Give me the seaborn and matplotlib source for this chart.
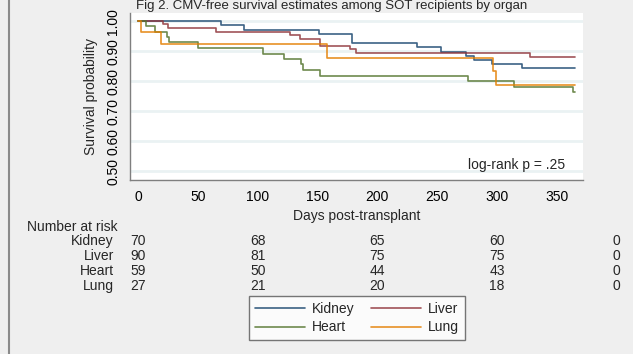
import pandas as pd
import matplotlib
matplotlib.use("Agg")
import matplotlib.pyplot as plt
import matplotlib.transforms as mtransforms
from matplotlib.lines import Line2D
import seaborn as sns

# Kaplan-Meier step estimates (days, survival)
kidney_days = [0, 69, 88, 151, 179, 233, 253, 274, 281, 296, 321, 365]
kidney_surv = [1.0, 0.986, 0.971, 0.957, 0.928, 0.913, 0.898, 0.884, 0.870, 0.857, 0.842, 0.842]

liver_days = [0, 21, 25, 65, 127, 135, 152, 177, 182, 328, 365]
liver_surv = [1.0, 0.989, 0.978, 0.963, 0.952, 0.941, 0.918, 0.906, 0.892, 0.880, 0.880]

heart_days = [0, 6, 14, 24, 26, 50, 104, 122, 136, 138, 152, 276, 314, 364, 365]
heart_surv = [1.0, 0.983, 0.962, 0.948, 0.930, 0.911, 0.891, 0.872, 0.857, 0.837, 0.818, 0.799, 0.779, 0.762, 0.762]

lung_days = [0, 2, 19, 158, 297, 299, 365]
lung_surv = [1.0, 0.963, 0.922, 0.877, 0.834, 0.788, 0.788]

organs = ["Kidney", "Liver", "Heart", "Lung"]
colors = ["#1a476f", "#90353b", "#55752f", "#e37e00"]

# number at risk table
risk_times = [0, 100, 200, 300, 400]
risk_kidney = [70, 68, 65, 60, 0]
risk_liver = [90, 81, 75, 75, 0]
risk_heart = [59, 50, 44, 43, 0]
risk_lung = [27, 21, 20, 18, 0]

curves = {
    "Kidney": (kidney_days, kidney_surv),
    "Liver": (liver_days, liver_surv),
    "Heart": (heart_days, heart_surv),
    "Lung": (lung_days, lung_surv),
}
df = pd.concat(
    [pd.DataFrame({"days": d, "surv": s, "organ": k}) for k, (d, s) in curves.items()],
    ignore_index=True,
)
risk = {"Kidney": risk_kidney, "Liver": risk_liver, "Heart": risk_heart, "Lung": risk_lung}

sns.set_theme(style="white")
plt.rcParams["font.family"] = ["Liberation Sans", "DejaVu Sans"]

W, H = 633, 354
fig = plt.figure(figsize=(W / 100, H / 100), dpi=100, facecolor="#efefef")
ax = fig.add_axes([130 / W, 1 - 180 / H, 453 / W, 167 / H])
ax.set_facecolor("white")

sns.lineplot(
    data=df, x="days", y="surv", hue="organ", hue_order=organs,
    palette=colors, estimator=None, sort=False, drawstyle="steps-post",
    linewidth=1.2, alpha=0.85, legend=False, ax=ax,
)

ax.set_xlim(-7, 372)
ax.set_ylim(0.47, 1.027)
ax.set_xticks([0, 50, 100, 150, 200, 250, 300, 350])
ax.set_yticks([0.5, 0.6, 0.7, 0.8, 0.9, 1.0])
ax.set_yticklabels([f"{v:.2f}" for v in ax.get_yticks()], rotation=90, va="center")
ax.grid(axis="y", color="#eaf2f3", linewidth=2)
ax.set_axisbelow(True)
for s in ["top", "right"]:
    ax.spines[s].set_visible(False)
for s in ["left", "bottom"]:
    ax.spines[s].set_color("#7f7f7f")
    ax.spines[s].set_linewidth(1)
ax.tick_params(axis="both", direction="out", length=4, width=1, color="#7f7f7f",
               labelsize=10, labelcolor="black", pad=3)
ax.set_xlabel("Days post-transplant", fontsize=10, labelpad=4)
ax.set_ylabel("Survival probability", fontsize=10, labelpad=6)

ax.text(0.96, 0.09, "log-rank p = .25", transform=ax.transAxes, ha="right",
        va="center", fontsize=10)

fig.text(332 / W, 1 - 0.5 / H, "Fig 2. CMV-free survival estimates among SOT recipients by organ",
         ha="center", va="top", fontsize=9.5)

# number at risk
fig.text(27 / W, 1 - 227 / H, "Number at risk", ha="left", va="center", fontsize=10)
trans = mtransforms.blended_transform_factory(ax.transData, fig.transFigure)
for i, org in enumerate(organs):
    yy = 1 - (241 + 15 * i) / H
    fig.text(114 / W, yy, org, ha="right", va="center", fontsize=10)
    for t, n in zip(risk_times, risk[org]):
        ax.text(t, yy, str(n), transform=trans, ha="center", va="center",
                fontsize=10, clip_on=False)

# legend
lines = {o: Line2D([], [], color=c, linewidth=1.2, alpha=0.85) for o, c in zip(organs, colors)}
order = ["Kidney", "Heart", "Liver", "Lung"]
leg = fig.legend([lines[o] for o in order], order, ncol=2, loc="center",
                 bbox_to_anchor=(357 / W, 1 - 318 / H), frameon=True, fancybox=False,
                 edgecolor="#555555", facecolor="white", fontsize=10,
                 handlelength=3.6, handletextpad=0.5, columnspacing=1.2,
                 borderpad=0.4, labelspacing=0.35)
leg.get_frame().set_linewidth(1)

# left border of graph region
fig.add_artist(Line2D([8.5 / W, 8.5 / W], [0, 1], color="#8a8a8a", linewidth=1.5,
                      transform=fig.transFigure))

fig.savefig("out.png", dpi=100, facecolor=fig.get_facecolor())
